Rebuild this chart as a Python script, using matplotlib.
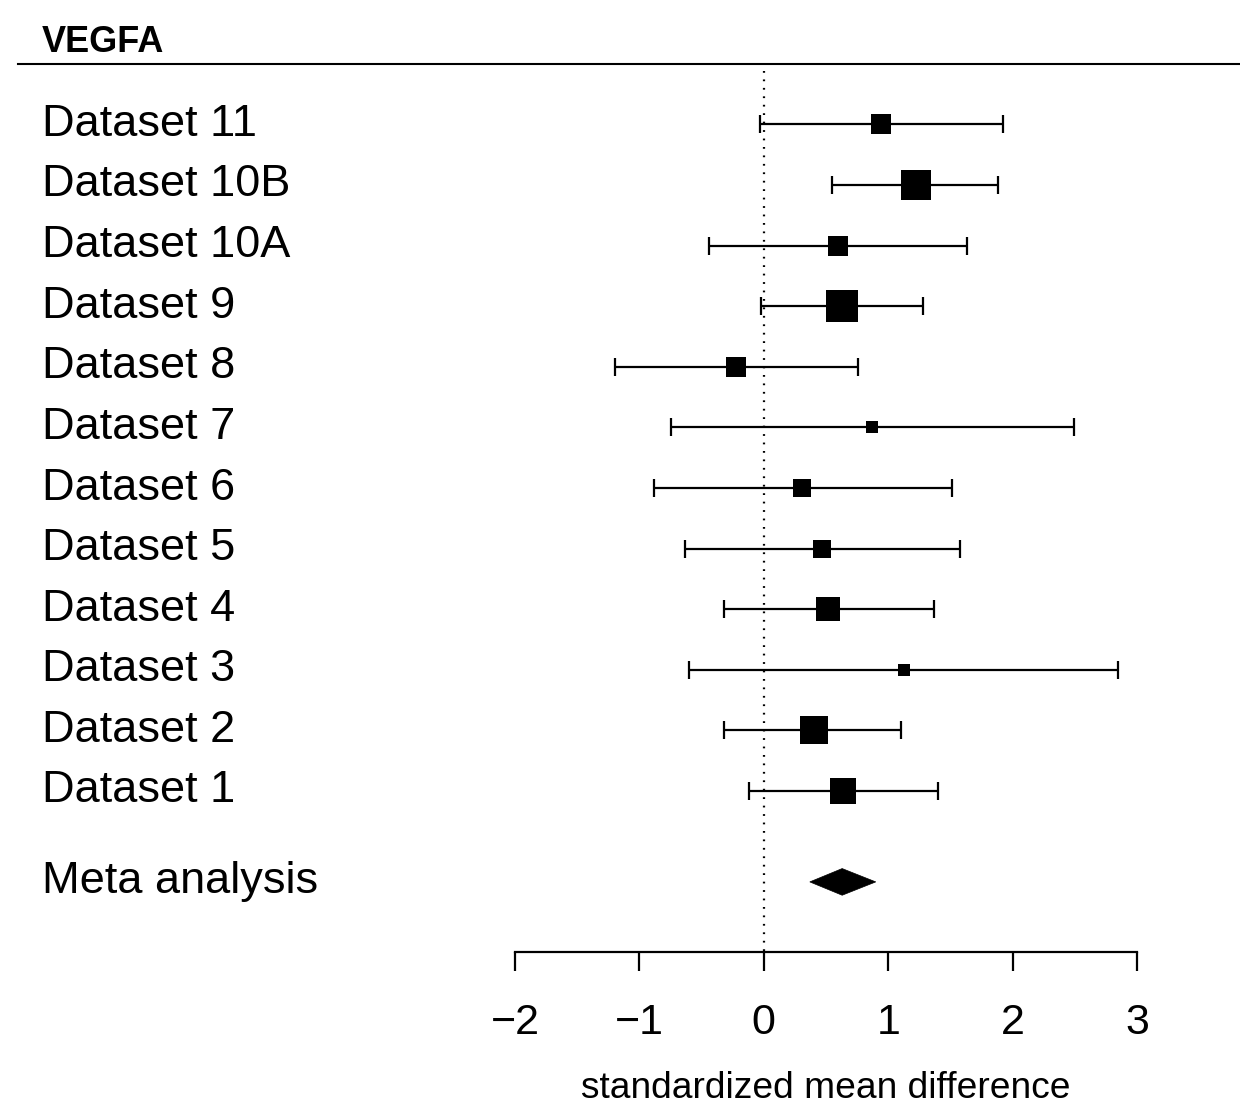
import matplotlib
matplotlib.use("Agg")
import matplotlib.pyplot as plt
import matplotlib.transforms as mtransforms
from matplotlib.patches import Polygon

plt.rcParams['font.family'] = ['Liberation Sans', 'DejaVu Sans']

# ---- data ----
title = "VEGFA"
labels = ["Dataset 11", "Dataset 10B", "Dataset 10A", "Dataset 9", "Dataset 8",
          "Dataset 7", "Dataset 6", "Dataset 5", "Dataset 4", "Dataset 3",
          "Dataset 2", "Dataset 1"]
est = [0.94, 1.22, 0.60, 0.63, -0.22, 0.87, 0.31, 0.47, 0.52, 1.13, 0.40, 0.64]
lo = [-0.03, 0.55, -0.44, -0.02, -1.20, -0.75, -0.88, -0.63, -0.32, -0.60, -0.32, -0.12]
hi = [1.92, 1.88, 1.63, 1.28, 0.76, 2.49, 1.51, 1.58, 1.37, 2.85, 1.10, 1.40]
meta_label = "Meta analysis"
meta_est, meta_lo, meta_hi = 0.63, 0.37, 0.90
xticks = [-2, -1, 0, 1, 2, 3]
xlabel = "standardized mean difference"

W, H = 1240, 1119
fig = plt.figure(figsize=(W / 100, H / 100), dpi=100)

def fx(px):
    return px / W

def fy(py):
    return 1 - py / H

row_px = 60.6
row1_px = 791.0
top_px, bot_px = 66.0, 951.5
ytop = 1 + (row1_px - top_px) / row_px
ybot = 1 - (bot_px - row1_px) / row_px

ax = fig.add_axes([fx(515), fy(bot_px), fx(1137) - fx(515), fy(top_px) - fy(bot_px)])
ax.set_xlim(-2, 3)
ax.set_ylim(ybot, ytop)

n = len(labels)
rows = [n - i for i in range(n)]
meta_row = -0.5

# reference line at 0
ax.plot([0, 0], [ybot, ytop], color='black', linestyle=(0, (0.8, 3.0)), lw=1.6,
        dash_capstyle='butt', clip_on=False)

for r, e, l, h in zip(rows, est, lo, hi):
    ax.errorbar([e], [r], xerr=[[e - l], [h - e]], fmt='none', ecolor='black',
                elinewidth=1.6, capsize=6.5, capthick=1.6)
    ms = 29.4 / (h - l)
    ax.plot([e], [r], marker='s', ms=ms, color='black', mew=0, linestyle='none')

# meta diamond
dh = 0.22
ax.add_patch(Polygon([[meta_lo, meta_row], [meta_est, meta_row + dh],
                      [meta_hi, meta_row], [meta_est, meta_row - dh]],
                     closed=True, facecolor='black', edgecolor='black', lw=0.5))

# labels
trans = mtransforms.blended_transform_factory(fig.transFigure, ax.transData)
for r, lab in zip(rows, labels):
    ax.text(fx(42), r, lab, transform=trans, ha='left', va='center', fontsize=32.5)
ax.text(fx(42), meta_row, meta_label, transform=trans, ha='left',
        va='center', fontsize=32.5)

# axes styling
for s in ['top', 'left', 'right']:
    ax.spines[s].set_visible(False)
ax.spines['bottom'].set_linewidth(1.6)
ax.set_yticks([])
ax.set_xticks(xticks)
ax.set_xticklabels([str(t).replace('-', '\u2212') for t in xticks])
ax.tick_params(axis='x', direction='out', length=14, width=1.6, labelsize=31, pad=23)

fig.text(fx(826), fy(1089), xlabel, ha='center', va='center', fontsize=26.7)

# header
fig.text(fx(42), fy(42), title, ha='left', va='center', fontsize=26, fontweight='bold')
fig.add_artist(plt.Line2D([fx(18), fx(1240)], [fy(64), fy(64)], color='black', lw=1.5,
                          transform=fig.transFigure))

fig.savefig("out.png", dpi=100)
